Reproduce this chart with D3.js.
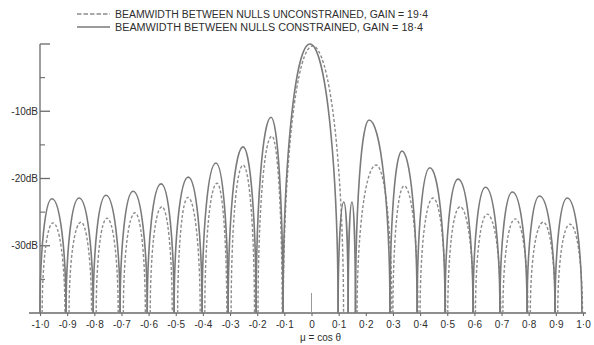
<!DOCTYPE html>
<html>
<head>
<meta charset="utf-8">
<script src="https://cdn.jsdelivr.net/npm/d3@7"></script>
<style>
	body { margin: 0; background: #fff; }
	svg { display: block; font-family: "Liberation Sans", "DejaVu Sans", sans-serif; }
</style>
</head>
<body>
<div id="chart"></div>
<script>
// mu = cos(theta) of lobe feet, peak position and peak level (dB)
// constrained beamwidth (solid)
var conStart = [-1.0, -0.904, -0.804, -0.705, -0.605, -0.506, -0.403, -0.307, -0.204, -0.105, 0.098, 0.135, 0.162, 0.289, 0.389, 0.492, 0.595, 0.694, 0.794, 0.897];
var conEnd = [-0.904, -0.804, -0.705, -0.605, -0.506, -0.403, -0.307, -0.204, -0.105, 0.098, 0.135, 0.162, 0.289, 0.389, 0.492, 0.595, 0.694, 0.794, 0.897, 0.996];
var conPeakMu = [-0.956, -0.856, -0.757, -0.657, -0.554, -0.454, -0.352, -0.252, -0.149, -0.006, 0.119, 0.149, 0.212, 0.333, 0.436, 0.540, 0.641, 0.740, 0.840, 0.942];
var conPeakDb = [-23.0, -22.9, -22.5, -21.9, -20.8, -19.8, -17.7, -15.3, -10.9, 0, -23.5, -23.5, -11.3, -15.9, -18.4, -20.1, -21.3, -22.0, -22.6, -22.9];

// unconstrained beamwidth (dashed)
var unStart = [-0.992, -0.893, -0.793, -0.693, -0.594, -0.493, -0.393, -0.296, -0.197, -0.104, 0.168, 0.300, 0.400, 0.502, 0.604, 0.705, 0.806, 0.907];
var unEnd = [-0.908, -0.810, -0.712, -0.612, -0.513, -0.410, -0.312, -0.210, -0.108, 0.118, 0.296, 0.392, 0.494, 0.597, 0.697, 0.797, 0.898, 0.998];
var unPeakMu = [-0.952, -0.849, -0.753, -0.650, -0.551, -0.455, -0.348, -0.252, -0.146, 0.004, 0.238, 0.341, 0.448, 0.547, 0.647, 0.750, 0.853, 0.952];
var unPeakDb = [-26.6, -26.5, -25.9, -25.1, -24.2, -22.8, -20.7, -18.0, -13.7, -0.3, -18.0, -21.1, -22.9, -24.2, -25.3, -26.0, -26.5, -26.8];

var xTicks = [-1.0, -0.9, -0.8, -0.7, -0.6, -0.5, -0.4, -0.3, -0.2, -0.1, 0, 0.1, 0.2, 0.3, 0.4, 0.5, 0.6, 0.7, 0.8, 0.9, 1.0];
var yMajor = [0, -10, -20, -30];
var yMinor = [-5, -15, -25, -35];
var yLabels = [-10, -20, -30];

var legendText = [
	"BEAMWIDTH  BETWEEN  NULLS  UNCONSTRAINED,  GAIN = 19·4",
	"BEAMWIDTH  BETWEEN  NULLS  CONSTRAINED,  GAIN  = 18·4"
];

var width = 594, height = 345;
var floorDb = -40;

var svg = d3.select("#chart").append("svg")
	.attr("width", width)
	.attr("height", height);

var x = d3.scaleLinear().domain([-1, 1]).range([40, 583]);
var y = d3.scaleLinear().domain([floorDb, 0]).range([313, 44]);

var axisColor = "#6a6a6a";
var textColor = "#2e2e2e";

// y axis: ticks point inward, labels outside
var gy = svg.append("g").attr("transform", `translate(${x(-1)},0)`);
gy.append("line")
	.attr("x1", 0).attr("x2", 0)
	.attr("y1", y(0)).attr("y2", y(floorDb))
	.attr("stroke", axisColor).attr("stroke-width", 1.3);
gy.selectAll(".major").data(yMajor).join("line")
	.attr("x1", 0).attr("x2", 10)
	.attr("y1", d => y(d)).attr("y2", d => y(d))
	.attr("stroke", axisColor).attr("stroke-width", 1.3);
gy.selectAll(".minor").data(yMinor).join("line")
	.attr("x1", 0).attr("x2", 5)
	.attr("y1", d => y(d)).attr("y2", d => y(d))
	.attr("stroke", axisColor).attr("stroke-width", 1.1);
gy.selectAll("text").data(yLabels).join("text")
	.attr("x", -2)
	.attr("y", d => y(d))
	.attr("dy", "0.35em")
	.attr("text-anchor", "end")
	.attr("font-size", 10)
	.attr("fill", textColor)
	.text(d => d + "dB");

// x axis
var xAxis = d3.axisBottom(x)
	.tickValues(xTicks)
	.tickSize(3)
	.tickPadding(5)
	.tickFormat(d => d === 0 ? "0" : d3.format(".1f")(d).replace(".", "·").replace("−", "-"));
var gx = svg.append("g")
	.attr("transform", `translate(0,${y(floorDb)})`)
	.call(xAxis);
gx.select(".domain").remove();
gx.selectAll(".tick line").attr("stroke", axisColor).attr("stroke-width", 1.1);
gx.selectAll(".tick text")
	.attr("font-size", 10)
	.attr("font-family", "\"Liberation Sans\", sans-serif")
	.attr("fill", textColor);
gx.append("line")
	.attr("x1", x(-1) - 11).attr("x2", x(1) + 3)
	.attr("y1", 0).attr("y2", 0)
	.attr("stroke", axisColor).attr("stroke-width", 1.3);
// the long boresight tick
gx.append("line")
	.attr("x1", x(0)).attr("x2", x(0))
	.attr("y1", 0).attr("y2", -20)
	.attr("stroke", "#999").attr("stroke-width", 1);

svg.append("text")
	.attr("x", x(0) + 9)
	.attr("y", 341)
	.attr("text-anchor", "middle")
	.attr("font-size", 10)
	.attr("fill", textColor)
	.text("μ = cos θ");

// a lobe is two quarter ellipses from the foot on the left, over the peak, to the foot on the right
function lobePath(x0, xp, x1, dbPeak) {
	var yf = y(floorDb), yp = y(dbPeak);
	var ry = yf - yp;
	return `M${x(x0)},${yf}` +
		`A${x(xp) - x(x0)},${ry} 0 0 1 ${x(xp)},${yp}` +
		`A${x(x1) - x(xp)},${ry} 0 0 1 ${x(x1)},${yf}`;
}

function drawSeries(starts, ends, peakMu, peakDb, style) {
	var lobes = starts.map((s, i) => ({ s: s, e: ends[i], m: peakMu[i], db: peakDb[i] }));
	svg.append("g").selectAll("path").data(lobes).join("path")
		.attr("d", d => lobePath(d.s, d.m, d.e, d.db))
		.attr("fill", "none")
		.attr("stroke", style.color)
		.attr("stroke-width", style.width)
		.attr("stroke-dasharray", style.dash);
}

drawSeries(unStart, unEnd, unPeakMu, unPeakDb, { color: "#8c8c8c", width: 1.4, dash: "3,2" });
drawSeries(conStart, conEnd, conPeakMu, conPeakDb, { color: "#7a7a7a", width: 1.6, dash: null });

// legend
var legend = svg.append("g");
legend.selectAll("line").data(legendText).join("line")
	.attr("x1", 77).attr("x2", 110)
	.attr("y1", (d, i) => 14 + i * 13).attr("y2", (d, i) => 14 + i * 13)
	.attr("stroke", (d, i) => i ? "#7a7a7a" : "#8c8c8c")
	.attr("stroke-width", 1.4)
	.attr("stroke-dasharray", (d, i) => i ? null : "4.5,2");
legend.selectAll("text").data(legendText).join("text")
	.attr("x", 115)
	.attr("y", (d, i) => 17.5 + i * 13)
	.attr("font-size", 10)
	.attr("fill", textColor)
	.attr("textLength", (d, i) => i ? 308 : 313)
	.attr("lengthAdjust", "spacingAndGlyphs")
	.text(d => d);
</script>
</body>
</html>
